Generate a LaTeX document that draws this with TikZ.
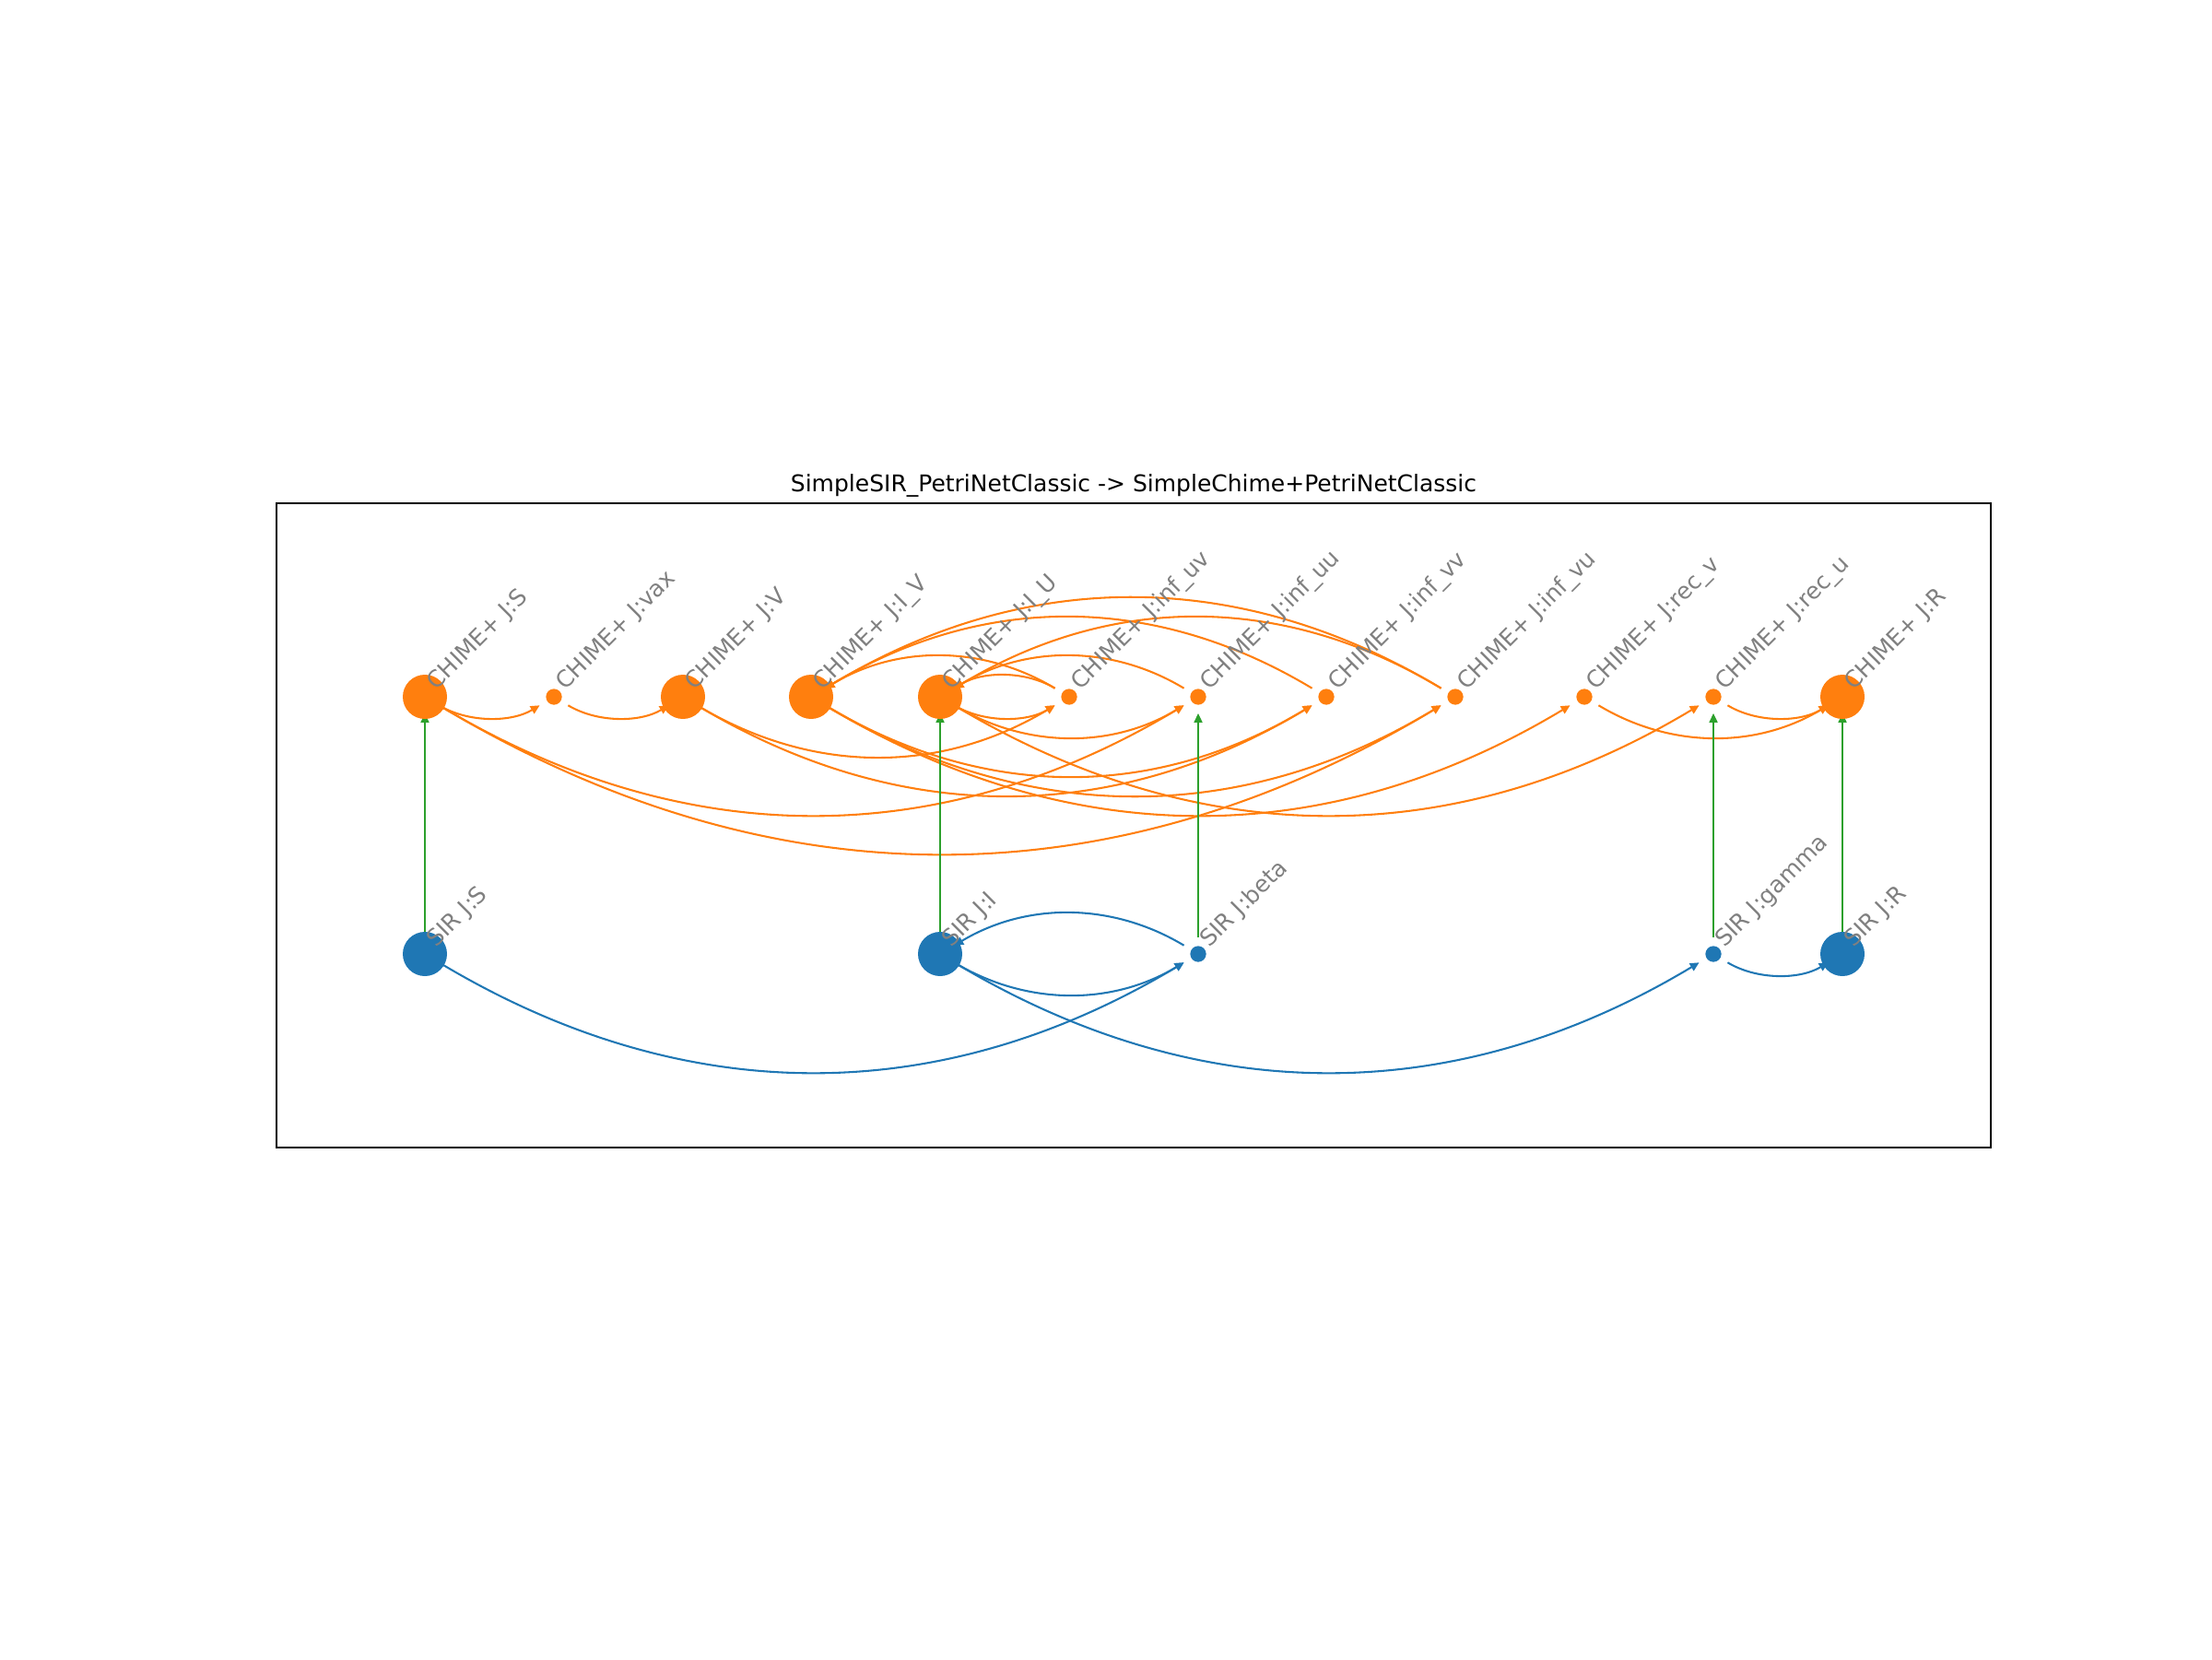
\documentclass[tikz,border=0pt]{standalone}
\usepackage{fontspec}
\setmainfont{DejaVu Sans}
\usetikzlibrary{arrows.meta,backgrounds,calc}

\definecolor{chimeorange}{HTML}{FF7F0E}
\definecolor{sirblue}{HTML}{1F77B4}
\definecolor{mapgreen}{HTML}{2CA02C}
\definecolor{labelgrey}{HTML}{808080}

\tikzset{
  placenode/.style={shape=circle,inner sep=0pt,minimum size=0.48cm},
  transnode/.style={shape=circle,inner sep=0pt,minimum size=0.173cm},
  lbl/.style={anchor=base west,rotate=45,inner sep=0pt,text=labelgrey,font=\fontsize{7.11}{8.5}\selectfont},
  petriedge/.style={-{Triangle[length=2.8pt,width=2.6pt]},line width=0.59pt,
    shorten <=0.18cm,shorten >=0.18cm,bend right=31},
  chimeedge/.style={petriedge,draw=chimeorange},
  siredge/.style={petriedge,draw=sirblue},
  mapedge/.style={-{Triangle[length=2.8pt,width=2.6pt]},line width=0.35pt,
    shorten <=0.18cm,shorten >=0.18cm,draw=mapgreen}
}

\begin{document}
\begin{tikzpicture}
\useasboundingbox (0,0) rectangle (24,18);

% title and frame
\node[anchor=base,inner sep=0pt,font=\fontsize{7.11}{8.5}\selectfont] (title) at (12.30,12.665) {SimpleSIR\_PetriNetClassic -> SimpleChime+PetriNetClassic};
\draw[line width=0.47pt] (3.00,5.55) rectangle (21.60,12.54);

% CHIME+ net
\node[placenode,fill=chimeorange] (cS) at (4.61,10.44) {};
\node[transnode,fill=chimeorange] (cvax) at (6.01,10.44) {};
\node[placenode,fill=chimeorange] (cV) at (7.41,10.44) {};
\node[placenode,fill=chimeorange] (cIV) at (8.80,10.44) {};
\node[placenode,fill=chimeorange] (cIU) at (10.20,10.44) {};
\node[transnode,fill=chimeorange] (cinfuv) at (11.60,10.44) {};
\node[transnode,fill=chimeorange] (cinfuu) at (13.00,10.44) {};
\node[transnode,fill=chimeorange] (cinfvv) at (14.39,10.44) {};
\node[transnode,fill=chimeorange] (cinfvu) at (15.79,10.44) {};
\node[transnode,fill=chimeorange] (crecv) at (17.19,10.44) {};
\node[transnode,fill=chimeorange] (crecu) at (18.59,10.44) {};
\node[placenode,fill=chimeorange] (cR) at (19.99,10.44) {};

% SIR net
\node[placenode,fill=sirblue] (sS) at (4.61,7.65) {};
\node[placenode,fill=sirblue] (sI) at (10.20,7.65) {};
\node[transnode,fill=sirblue] (sbeta) at (13.00,7.65) {};
\node[transnode,fill=sirblue] (sgamma) at (18.59,7.65) {};
\node[placenode,fill=sirblue] (sR) at (19.99,7.65) {};

% labels
\node[lbl] (cSl) at ($(cS)+(0.12,0.06)$) {CHIME+ J:S};
\node[lbl] (cvaxl) at ($(cvax)+(0.12,0.06)$) {CHIME+ J:vax};
\node[lbl] (cVl) at ($(cV)+(0.12,0.06)$) {CHIME+ J:V};
\node[lbl] (cIVl) at ($(cIV)+(0.12,0.06)$) {CHIME+ J:I\_V};
\node[lbl] (cIUl) at ($(cIU)+(0.12,0.06)$) {CHIME+ J:I\_U};
\node[lbl] (cinfuvl) at ($(cinfuv)+(0.12,0.06)$) {CHIME+ J:inf\_uv};
\node[lbl] (cinfuul) at ($(cinfuu)+(0.12,0.06)$) {CHIME+ J:inf\_uu};
\node[lbl] (cinfvvl) at ($(cinfvv)+(0.12,0.06)$) {CHIME+ J:inf\_vv};
\node[lbl] (cinfvul) at ($(cinfvu)+(0.12,0.06)$) {CHIME+ J:inf\_vu};
\node[lbl] (crecvl) at ($(crecv)+(0.12,0.06)$) {CHIME+ J:rec\_v};
\node[lbl] (crecul) at ($(crecu)+(0.12,0.06)$) {CHIME+ J:rec\_u};
\node[lbl] (cRl) at ($(cR)+(0.12,0.06)$) {CHIME+ J:R};
\node[lbl] (sSl) at ($(sS)+(0.12,0.06)$) {SIR J:S};
\node[lbl] (sIl) at ($(sI)+(0.12,0.06)$) {SIR J:I};
\node[lbl] (sbetal) at ($(sbeta)+(0.12,0.06)$) {SIR J:beta};
\node[lbl] (sgammal) at ($(sgamma)+(0.12,0.06)$) {SIR J:gamma};
\node[lbl] (sRl) at ($(sR)+(0.12,0.06)$) {SIR J:R};

\begin{pgfonlayer}{background}
% CHIME+ arcs
\path (cS.center) edge[chimeedge] (cvax.center);
\path (cvax.center) edge[chimeedge] (cV.center);
\path (cS.center) edge[chimeedge] (cinfuu.center);
\path (cS.center) edge[chimeedge] (cinfvu.center);
\path (cV.center) edge[chimeedge] (cinfuv.center);
\path (cV.center) edge[chimeedge] (cinfvv.center);
\path (cIV.center) edge[chimeedge] (cinfvv.center);
\path (cIV.center) edge[chimeedge] (cinfvu.center);
\path (cIV.center) edge[chimeedge] (crecv.center);
\path (cIU.center) edge[chimeedge] (cinfuv.center);
\path (cIU.center) edge[chimeedge] (cinfuu.center);
\path (cIU.center) edge[chimeedge] (crecu.center);
\path (cinfuv.center) edge[chimeedge] (cIU.center);
\path (cinfuv.center) edge[chimeedge] (cIV.center);
\path (cinfuu.center) edge[chimeedge] (cIU.center);
\path (cinfvv.center) edge[chimeedge] (cIV.center);
\path (cinfvu.center) edge[chimeedge] (cIV.center);
\path (cinfvu.center) edge[chimeedge] (cIU.center);
\path (crecv.center) edge[chimeedge] (cR.center);
\path (crecu.center) edge[chimeedge] (cR.center);

% SIR arcs
\path (sS.center) edge[siredge] (sbeta.center);
\path (sI.center) edge[siredge] (sbeta.center);
\path (sbeta.center) edge[siredge] (sI.center);
\path (sI.center) edge[siredge] (sgamma.center);
\path (sgamma.center) edge[siredge] (sR.center);

% mapping
\path (sS.center) edge[mapedge] (cS.center);
\path (sI.center) edge[mapedge] (cIU.center);
\path (sbeta.center) edge[mapedge] (cinfuu.center);
\path (sgamma.center) edge[mapedge] (crecu.center);
\path (sR.center) edge[mapedge] (cR.center);
\end{pgfonlayer}
\end{tikzpicture}
\end{document}
